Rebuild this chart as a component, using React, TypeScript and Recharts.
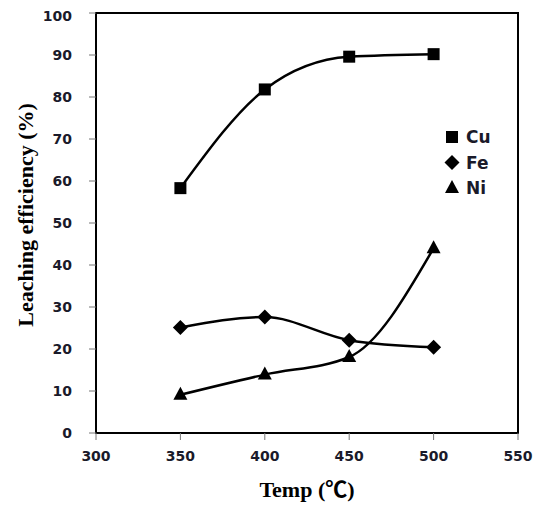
import { LineChart, Line, XAxis, YAxis, ReferenceArea } from 'recharts'

const temps = [350, 400, 450, 500]
const cu = [58.3, 81.8, 89.6, 90.2]
const fe = [25.1, 27.6, 22.1, 20.4]
const ni = [9.1, 13.9, 18.1, 44.0]
const xTicks = [300, 350, 400, 450, 500, 550]
const yTicks = [0, 10, 20, 30, 40, 50, 60, 70, 80, 90, 100]

const data = temps.map((t, i) => ({ temp: t, Cu: cu[i], Fe: fe[i], Ni: ni[i] }))

const tickStyle = { fontFamily: 'DejaVu Sans', fontWeight: 'bold', fontSize: 14, fill: '#1a1a2a' }
const titleStyle = { fontFamily: "'Liberation Serif', 'Noto Sans CJK SC'", fontWeight: 'bold', fontSize: 22, fill: '#000' }

const marker = (shape: string, cx: number, cy: number) => {
  if (shape === 'square') return <rect x={cx - 6} y={cy - 6} width={12} height={12} fill='#000' />
  if (shape === 'diamond')
    return <polygon points={`${cx},${cy - 7.5} ${cx + 7.5},${cy} ${cx},${cy + 7.5} ${cx - 7.5},${cy}`} fill='#000' />
  return <polygon points={`${cx},${cy - 8} ${cx + 7},${cy + 5} ${cx - 7},${cy + 5}`} fill='#000' />
}

const SquareDot = (props: any) => marker('square', props.cx, props.cy)
const DiamondDot = (props: any) => marker('diamond', props.cx, props.cy)
const TriangleDot = (props: any) => marker('triangle', props.cx, props.cy)

const legendItems = [
  { name: 'Cu', shape: 'square' },
  { name: 'Fe', shape: 'diamond' },
  { name: 'Ni', shape: 'triangle' }
]

const XTitle = (props: any) => {
  const { x, y, width } = props.viewBox
  return (
    <text x={x + width / 2} y={y + 64} textAnchor='middle' style={titleStyle}>
      Temp (℃)
    </text>
  )
}

const YTitle = () => {
  const cx = 17
  const cy = 207
  return (
    <text x={cx} y={cy} textAnchor='middle' dominantBaseline='central' transform={`rotate(-90 ${cx} ${cy})`} style={titleStyle}>
      Leaching efficiency (%)
    </text>
  )
}

export default function App() {
  return (
    <div style={{ position: 'relative', width: 534, height: 494 }}>
      <LineChart width={534} height={494} data={data} margin={{ top: 5, right: 24, left: 0, bottom: 9 }}>
        <XAxis
          dataKey='temp'
          type='number'
          domain={[300, 550]}
          ticks={xTicks}
          height={60}
          tick={tickStyle}
          tickSize={7}
          tickMargin={11}
          stroke='#000'
          strokeWidth={2}
          tickLine={{ stroke: '#777', strokeWidth: 1 }}
          label={<XTitle />}
        />
        <YAxis
          type='number'
          domain={[0, 100]}
          ticks={yTicks}
          width={88}
          tick={tickStyle}
          tickSize={7}
          tickMargin={17}
          stroke='#000'
          strokeWidth={2}
          tickLine={{ stroke: '#777', strokeWidth: 1 }}
          label={<YTitle />}
        />
        <ReferenceArea x1={300} x2={550} y1={0} y2={100} fill='none' stroke='#000' strokeWidth={2} ifOverflow='visible' />
        <Line type='monotone' dataKey='Cu' stroke='#000' strokeWidth={2.5} dot={<SquareDot />} isAnimationActive={false} />
        <Line type='monotone' dataKey='Fe' stroke='#000' strokeWidth={2.5} dot={<DiamondDot />} isAnimationActive={false} />
        <Line type='monotone' dataKey='Ni' stroke='#000' strokeWidth={2.5} dot={<TriangleDot />} isAnimationActive={false} />
      </LineChart>
      <svg width={70} height={80} style={{ position: 'absolute', left: 436, top: 116 }}>
        {legendItems.map((it, i) => {
          const cy = 13 + i * 25.5
          const cx = 8
          return (
            <g key={it.name}>
              {marker(it.shape, cx, cy)}
              <text x={cx + 14} y={cy + 6} style={{ fontFamily: 'DejaVu Sans', fontWeight: 'bold', fontSize: 17, fill: '#1a1a2a' }}>
                {it.name}
              </text>
            </g>
          )
        })}
      </svg>
    </div>
  )
}
